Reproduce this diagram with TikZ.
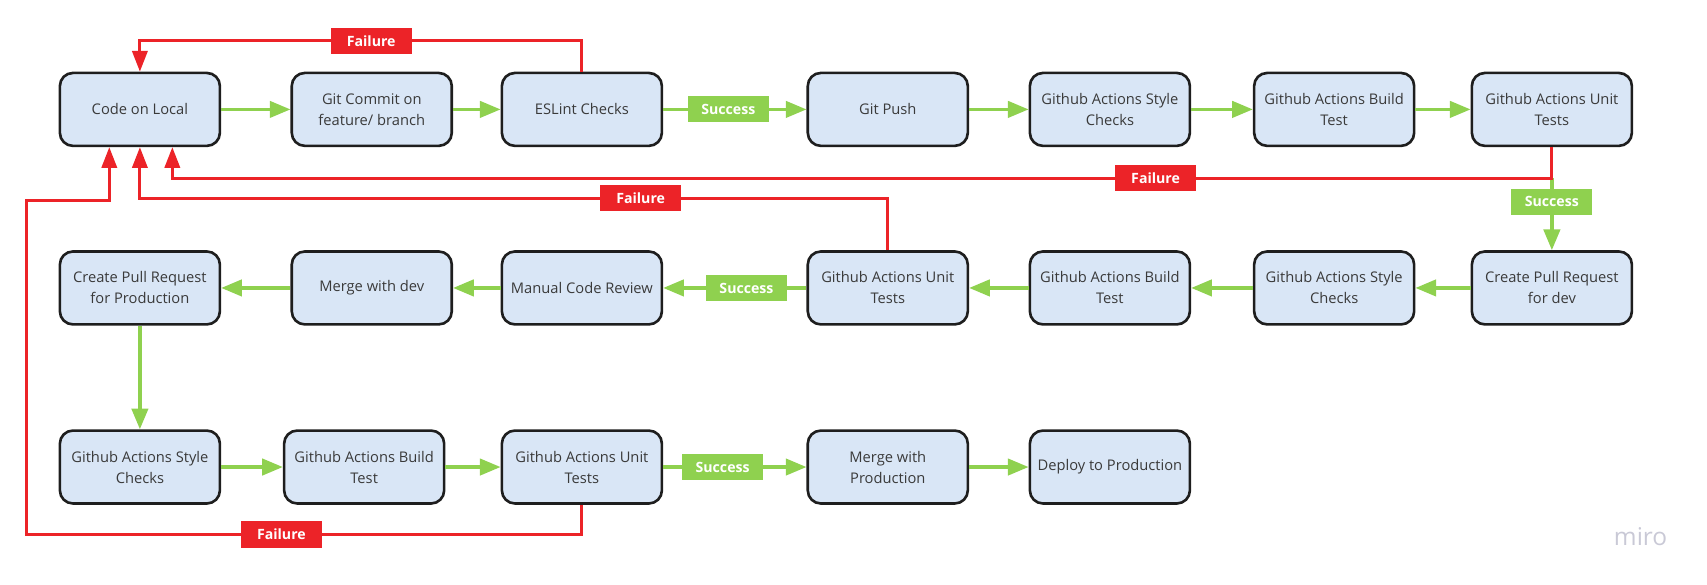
\documentclass[tikz,border=0pt]{standalone}
\usepackage{fontspec}
\setmainfont{Open Sans}
\usetikzlibrary{arrows.meta}
\definecolor{boxfill}{HTML}{D9E6F6}
\definecolor{boxline}{HTML}{1E1E1E}
\definecolor{txtcol}{HTML}{3A3A3A}
\definecolor{okgreen}{HTML}{8FD14F}
\definecolor{failred}{HTML}{EC2328}
\definecolor{wmark}{HTML}{C9C9D6}
\tikzset{
  stepbox/.style={draw=boxline, line width=2.4pt, fill=boxfill, rounded corners=12pt,
    minimum width=147pt, minimum height=67pt, inner sep=0pt, align=center,
    text=txtcol, font=\fontsize{13.5}{19.3}\selectfont},
  glink/.style={draw=okgreen, line width=3pt, -{Triangle[length=19pt,width=15pt]}},
  gline/.style={draw=okgreen, line width=3pt},
  rlink/.style={draw=failred, line width=2.6pt, -{Triangle[length=19pt,width=14pt]}},
  rline/.style={draw=failred, line width=2.6pt},
  tag/.style={text=white, inner sep=0pt, minimum width=74.5pt, minimum height=24pt,
    font=\bfseries\fontsize{13}{15}\selectfont},
  oktag/.style={tag, fill=okgreen},
  failtag/.style={tag, fill=failred}
}
\begin{document}
\begin{tikzpicture}[x=1pt,y=-1pt]
\useasboundingbox (0,0) rectangle (1568,537.3);
% row 1
\node[stepbox] (code)   at (128.5,100.5) {Code on Local};
\node[stepbox] (commit) at (341.5,100.5) {Git Commit on\\feature/ branch};
\node[stepbox] (eslint) at (534.5,100.5) {ESLint Checks};
\node[stepbox] (push)   at (815.5,100.5) {Git Push};
\node[stepbox] (style1) at (1019.5,100.5) {Github Actions Style\\Checks};
\node[stepbox] (build1) at (1225.5,100.5) {Github Actions Build\\Test};
\node[stepbox] (unit1)  at (1425.5,100.5) {Github Actions Unit\\Tests};
% row 2
\node[stepbox] (prprod)   at (128.5,264.5) {Create Pull Request\\for Production};
\node[stepbox] (mergedev) at (341.5,264.5) {Merge with dev};
\node[stepbox] (review)   at (534.5,264.5) {Manual Code Review};
\node[stepbox] (unit2)    at (815.5,264.5) {Github Actions Unit\\Tests};
\node[stepbox] (build2)   at (1019.5,264.5) {Github Actions Build\\Test};
\node[stepbox] (style2)   at (1225.5,264.5) {Github Actions Style\\Checks};
\node[stepbox] (prdev)    at (1425.5,264.5) {Create Pull Request\\for dev};
% row 3
\node[stepbox] (style3)    at (128.5,429) {Github Actions Style\\Checks};
\node[stepbox] (build3)    at (334.5,429) {Github Actions Build\\Test};
\node[stepbox] (unit3)     at (534.5,429) {Github Actions Unit\\Tests};
\node[stepbox] (mergeprod) at (815.5,429) {Merge with\\Production};
\node[stepbox] (deploy)    at (1019.5,429) {Deploy to Production};
% routing levels
\coordinate (ytop) at (0,37.4);
\coordinate (yf1) at (0,163.8);
\coordinate (yf2) at (0,182.2);
\coordinate (yf3) at (0,184.4);
\coordinate (ybot) at (0,491);
\coordinate (xleft) at (24.5,0);
\coordinate (split) at (unit1.south |- yf1);
% green connectors
\draw[glink] (code) -- (commit);
\draw[glink] (commit) -- (eslint);
\draw[glink] (eslint) -- (push);
\draw[glink] (push) -- (style1);
\draw[glink] (style1) -- (build1);
\draw[glink] (build1) -- (unit1);
\draw[glink] (split) -- (prdev.north);
\draw[glink] (prdev) -- (style2);
\draw[glink] (style2) -- (build2);
\draw[glink] (build2) -- (unit2);
\draw[glink] (unit2) -- (review);
\draw[glink] (review) -- (mergedev);
\draw[glink] (mergedev) -- (prprod);
\draw[glink] (prprod) -- (style3);
\draw[glink] (style3) -- (build3);
\draw[glink] (build3) -- (unit3);
\draw[glink] (unit3) -- (mergeprod);
\draw[glink] (mergeprod) -- (deploy);
% red connectors
\draw[rlink] (eslint.north) -- (eslint.north |- ytop) -| (code.north);
\draw[rlink] (unit1.south) -- (split) -| ([xshift=29.8pt]code.south);
\draw[rlink] (unit2.north) -- (unit2.north |- yf2) -| (code.south);
\draw[rlink] (unit3.south) -- (unit3.south |- ybot) -| (xleft |- yf3) -| ([xshift=-28.1pt]code.south);
% tags
\node[oktag] (s1) at (669,100.5) {Success};
\node[oktag] (s2) at (685.7,264.5) {Success};
\node[oktag] (s3) at (663.8,429) {Success};
\node[oktag] (s4) at (1425.5,185.5) {Success};
\node[failtag] (f1) at (341,37.4) {Failure};
\node[failtag] (f2) at (1061.5,163.8) {Failure};
\node[failtag] (f3) at (588.5,182.2) {Failure};
\node[failtag] (f4) at (258.5,491) {Failure};
% watermark
\node[text=wmark, anchor=base, inner sep=0pt, font=\fontsize{22.5}{24}\selectfont] (miro) at (1507,501.5) {miro};
\end{tikzpicture}
\end{document}
